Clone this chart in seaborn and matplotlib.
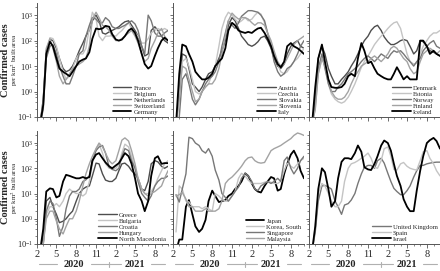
import pandas as pd
import matplotlib
matplotlib.use('Agg')
import matplotlib.pyplot as plt
import matplotlib.dates as mdates
import matplotlib.ticker as mticker
import seaborn as sns

# half-monthly samples, 15 Feb 2020 .. 1 Oct 2021
dates = pd.date_range('2020-02-15', '2021-10-01', freq='SMS')

# confirmed cases per km2 built area (log scale)
france = [0.05, 0.5, 40, 110, 100, 50, 20, 8, 6, 7, 10, 20, 40, 80, 150, 250, 600, 1000, 600, 200,
          180, 220, 250, 300, 350, 450, 550, 600, 400, 250, 150, 60, 25, 30, 250, 350, 250, 150, 100, 80]
belgium = [0.05, 0.3, 30, 130, 120, 60, 20, 6, 3, 4, 8, 20, 30, 30, 50, 300, 1300, 700, 150, 100,
           150, 150, 160, 150, 200, 250, 350, 500, 300, 200, 150, 80, 80, 120, 200, 250, 300, 250, 300, 250]
netherlands = [0.05, 0.2, 20, 60, 70, 30, 10, 4, 2, 2, 4, 10, 30, 40, 150, 400, 800, 700, 500, 500,
               800, 600, 350, 300, 300, 350, 400, 500, 600, 450, 250, 60, 30, 1000, 600, 200, 150, 150, 200, 250]
switzerland = [0.05, 0.5, 50, 120, 50, 15, 4, 2, 3, 5, 8, 10, 12, 15, 20, 60, 700, 1300, 800, 400,
               350, 250, 150, 100, 100, 120, 150, 200, 250, 150, 80, 30, 15, 20, 50, 100, 200, 300, 150, 100]
germany = [0.05, 0.3, 30, 90, 60, 20, 8, 6, 5, 4, 6, 10, 15, 18, 20, 35, 120, 300, 280, 300,
           380, 350, 180, 110, 100, 110, 150, 250, 300, 200, 100, 30, 12, 8, 10, 25, 50, 100, 130, 100]

austria = [0.05, 1, 30, 25, 8, 2, 1.5, 1, 1.5, 3, 5, 6, 10, 20, 40, 100, 400, 800, 600, 300,
           150, 100, 70, 60, 70, 90, 130, 150, 100, 50, 20, 10, 8, 12, 30, 60, 80, 100, 60, 50]
czechia = [0.05, 0.5, 15, 20, 10, 3, 1, 0.8, 1, 1.5, 2, 5, 10, 60, 300, 800, 1300, 1000, 700, 500,
           600, 800, 600, 700, 1000, 1300, 1100, 500, 200, 80, 30, 12, 6, 5, 6, 10, 15, 20, 30, 50]
slovakia = [0.05, 0.1, 3, 5, 2, 0.5, 0.3, 0.5, 1, 2, 3, 4, 6, 15, 60, 200, 600, 400, 300, 500,
            900, 1200, 1500, 1500, 1400, 1300, 1000, 600, 200, 60, 15, 6, 4, 5, 8, 10, 15, 30, 60, 100]
slovenia = [0.05, 0.5, 10, 8, 3, 1, 0.4, 0.5, 1, 1.5, 2, 2, 3, 8, 30, 150, 600, 1200, 900, 700,
            800, 800, 700, 500, 400, 500, 500, 400, 200, 100, 40, 15, 10, 12, 20, 40, 70, 100, 120, 150]
italy = [0.05, 5, 70, 60, 30, 15, 6, 4, 3, 3, 3.5, 5, 10, 15, 20, 50, 250, 500, 400, 250,
         220, 200, 220, 200, 250, 300, 320, 200, 120, 60, 25, 12, 9, 15, 60, 80, 60, 50, 40, 30]

denmark = [0.05, 0.5, 20, 60, 30, 8, 4, 2, 2, 3, 4, 6, 10, 17, 30, 60, 100, 150, 250, 350,
           400, 250, 140, 90, 70, 70, 80, 100, 110, 100, 60, 30, 40, 100, 90, 60, 40, 35, 30, 25]
estonia = [0.05, 0.2, 5, 20, 10, 2, 0.8, 0.5, 0.4, 0.35, 0.4, 0.6, 1, 2, 4, 9, 15, 25, 40, 70,
           100, 150, 200, 300, 400, 500, 550, 300, 100, 30, 15, 12, 13, 30, 60, 100, 150, 200, 200, 250]
norway = [0.05, 0.3, 8, 30, 8, 2, 1, 1, 1.5, 2, 3, 5, 6, 8, 10, 15, 20, 25, 20, 15,
          20, 30, 25, 20, 30, 40, 35, 40, 30, 20, 15, 10, 15, 20, 40, 60, 80, 100, 60, 50]
finland = [0.05, 0.2, 5, 20, 10, 3, 1, 0.6, 0.5, 0.5, 0.6, 1, 2, 4, 6, 10, 12, 15, 20, 25,
           20, 15, 20, 30, 50, 60, 50, 30, 20, 15, 8, 5, 6, 15, 30, 40, 50, 40, 30, 40]
iceland = [0.05, 1.5, 20, 70, 15, 3, 1.5, 1.4, 1.4, 1.5, 2, 4, 5, 4, 20, 80, 40, 13, 15, 8,
           5, 4, 3.4, 3, 3, 5, 9, 5, 3, 4, 3, 3, 3, 100, 100, 60, 30, 40, 30, 25]

greece = [0.05, 0.2, 5, 7, 3, 1.5, 0.7, 0.8, 1, 1.5, 2, 5, 10, 15, 18, 20, 50, 160, 150, 60,
          34, 30, 30, 40, 80, 150, 160, 120, 80, 60, 40, 15, 13, 30, 150, 200, 180, 120, 100, 120]
bulgaria = [0.05, 0.1, 1.5, 3, 3, 4, 3, 5, 10, 15, 12, 10, 10, 8, 10, 30, 150, 600, 900, 400,
            150, 100, 100, 100, 150, 400, 900, 700, 300, 100, 40, 15, 10, 10, 12, 20, 40, 80, 150, 200]
croatia = [0.05, 0.1, 2, 5, 4, 1, 0.2, 0.5, 2.5, 8, 12, 12, 15, 30, 35, 50, 200, 500, 700, 800,
           400, 110, 90, 80, 100, 300, 600, 500, 200, 100, 30, 10, 7, 5, 8, 20, 30, 40, 40, 50]
hungary = [0.05, 0.1, 1, 2, 2, 0.8, 0.4, 0.25, 0.5, 1, 1, 2, 5, 20, 60, 150, 300, 600, 1000, 700,
           400, 200, 150, 200, 500, 1300, 1600, 1200, 500, 150, 40, 15, 10, 8, 10, 12, 15, 20, 40, 80]
north_macedonia = [0.05, 0.4, 12, 16, 15, 7, 8, 30, 55, 50, 45, 40, 40, 45, 40, 45, 200, 350, 400, 250,
                   170, 120, 100, 130, 160, 250, 400, 300, 150, 40, 10, 5, 2, 5, 50, 250, 300, 150, 160, 160]

japan = [0.05, 0.15, 0.15, 3, 5.5, 1.5, 0.5, 0.3, 0.4, 0.9, 5, 13, 8, 4.6, 5, 5.5, 8, 10, 15, 20,
         30, 63, 50, 25, 15, 12, 11, 20, 30, 45, 40, 13, 15, 60, 150, 350, 500, 250, 80, 40]
korea = [0.3, 20, 15, 5, 4.6, 3, 3, 3, 2.5, 3, 2.5, 2, 10, 8, 6, 5, 5, 8, 12, 40,
         63, 50, 34, 25, 25, 25, 25, 28, 30, 28, 25, 25, 30, 80, 160, 120, 100, 150, 200, 250]
singapore = [9, 4.6, 15, 60, 1700, 1500, 1000, 800, 500, 400, 600, 300, 85, 34, 10, 7, 5, 8, 12, 18,
             40, 63, 50, 30, 15, 13, 20, 25, 30, 25, 30, 40, 30, 200, 280, 100, 60, 100, 200, 300]
malaysia = [8, 9, 11, 6, 3, 3, 2, 2, 2, 2.5, 2, 2, 2, 2.5, 5, 25, 35, 45, 60, 85,
            120, 200, 260, 280, 200, 170, 160, 170, 280, 500, 600, 700, 800, 1000, 1200, 1500, 2000, 2500, 2300, 2000]

united_kingdom = [0.05, 0.3, 5, 20, 21, 18, 15, 5, 3, 1.5, 3.5, 4, 5.5, 10, 25, 60, 110, 130, 130, 100,
                  200, 250, 160, 63, 30, 16, 12, 9, 9, 13, 20, 45, 80, 130, 130, 150, 160, 170, 175, 175]
spain = [0.05, 0.5, 10, 25, 20, 10, 5, 3, 3, 5, 30, 100, 150, 170, 200, 250, 300, 400, 250, 110,
         100, 200, 600, 700, 300, 90, 85, 150, 170, 120, 100, 90, 85, 200, 450, 500, 250, 150, 80, 50]
israel = [0.05, 0.5, 15, 100, 70, 15, 3, 5, 40, 180, 250, 250, 230, 400, 800, 450, 110, 90, 85, 150,
          300, 800, 1260, 1000, 500, 150, 50, 20, 6, 3, 2, 2, 13, 80, 300, 1000, 1300, 1600, 1200, 600]

DARK, LIGHT, MID, MIDLIGHT, BLACK = '#4d4d4d', '#c4c4c4', '#777777', '#a3a3a3', '#000000'

panels = [
    [('France', france, DARK), ('Belgium', belgium, LIGHT), ('Netherlands', netherlands, MID),
     ('Switzerland', switzerland, MIDLIGHT), ('Germany', germany, BLACK)],
    [('Austria', austria, DARK), ('Czechia', czechia, LIGHT), ('Slovakia', slovakia, MID),
     ('Slovenia', slovenia, MIDLIGHT), ('Italy', italy, BLACK)],
    [('Denmark', denmark, DARK), ('Estonia', estonia, LIGHT), ('Norway', norway, MID),
     ('Finland', finland, MIDLIGHT), ('Iceland', iceland, BLACK)],
    [('Greece', greece, DARK), ('Bulgaria', bulgaria, LIGHT), ('Croatia', croatia, MID),
     ('Hungary', hungary, MIDLIGHT), ('North Macedonia', north_macedonia, BLACK)],
    [('Japan', japan, BLACK), ('Korea, South', korea, LIGHT), ('Singapore', singapore, MID),
     ('Malaysia', malaysia, MIDLIGHT)],
    [('United Kingdom', united_kingdom, MID), ('Spain', spain, LIGHT), ('Israel', israel, BLACK)],
]

sns.set_theme(style='ticks')
plt.rcParams['font.family'] = ['Liberation Serif', 'DejaVu Serif']
plt.rcParams['mathtext.fontset'] = 'stix'

W, H = 440, 271
col_left = [37, 173, 309]
col_w = 131
row_top = [3, 131]
row_bottom = [117, 244]


def year_bar(ax):
    # "—— 2020 ——+—— 2021 ——" under the month labels
    tr = ax.get_xaxis_transform()
    y = -0.18
    segs = [('2020-02-10', '2020-05-05'), ('2020-10-07', '2021-02-27'), ('2021-07-12', '2021-09-18')]
    for a, b in segs:
        ax.plot([pd.Timestamp(a), pd.Timestamp(b)], [y, y], transform=tr, color='#b0b0b0',
                lw=0.8, clip_on=False)
    jan = pd.Timestamp('2021-01-01')
    ax.plot([jan, jan], [y - 0.025, y + 0.025], transform=tr, color='#b0b0b0', lw=0.8, clip_on=False)
    ax.text(pd.Timestamp('2020-07-22'), y, '2020', transform=tr, ha='center', va='center',
            fontsize=7.5, fontweight='bold')
    ax.text(pd.Timestamp('2021-05-01'), y, '2021', transform=tr, ha='center', va='center',
            fontsize=7.5, fontweight='bold')


fig = plt.figure(figsize=(W / 100, H / 100), dpi=100)

for k, series in enumerate(panels):
    r, c = divmod(k, 3)
    rect = [col_left[c] / W, 1 - row_bottom[r] / H, col_w / W, (row_bottom[r] - row_top[r]) / H]
    ax = fig.add_axes(rect)
    for name, vals, color in series:
        lw = 1.3 if color == BLACK else 1.0
        sns.lineplot(x=dates, y=vals, ax=ax, color=color, lw=lw, label=name)

    ax.set_yscale('log')
    ax.set_ylim(0.1, 3000)
    ax.set_xlim(pd.Timestamp('2020-02-01'), pd.Timestamp('2021-10-01'))
    ax.xaxis.set_major_locator(mdates.MonthLocator(bymonth=[2, 5, 8, 11]))
    ax.xaxis.set_minor_locator(mdates.MonthLocator())
    ax.xaxis.set_major_formatter(mticker.FuncFormatter(lambda v, p: str(mdates.num2date(v).month)))
    ax.yaxis.set_major_locator(mticker.LogLocator(base=10, numticks=10))
    ax.yaxis.set_minor_locator(mticker.LogLocator(base=10, subs=[2, 4, 6, 8], numticks=10))
    ax.yaxis.set_minor_formatter(mticker.NullFormatter())

    for s in ['top', 'right']:
        ax.spines[s].set_visible(False)
    for s in ['left', 'bottom']:
        ax.spines[s].set_color('#555555')
        ax.spines[s].set_linewidth(0.7)
    ax.tick_params(which='major', length=3, width=0.6, color='#555555', pad=1.5)
    ax.tick_params(axis='x', labelsize=7.5)
    ax.tick_params(axis='y', labelsize=6, pad=0.5, length=2.5)
    ax.tick_params(which='minor', length=1.5, width=0.5, color='#555555')
    ax.set_xlabel('')
    ax.set_ylabel('')

    if c != 0:
        ax.tick_params(axis='y', labelleft=False)
    if r == 0:
        ax.tick_params(axis='x', labelbottom=False)
    else:
        year_bar(ax)

    ax.legend(loc='lower right', frameon=False, fontsize=4.8, handlelength=2.8,
              handletextpad=0.3, labelspacing=0.05, borderaxespad=0.15, borderpad=0.2)

for r in range(2):
    yc = 1 - (row_top[r] + row_bottom[r]) / 2 / H
    fig.text(5.2 / W, yc, 'Confirmed cases', rotation=90, ha='center', va='center',
             fontsize=7.5, fontweight='bold')
    fig.text(15 / W, yc, 'per km$^2$ built area', rotation=90, ha='center', va='center',
             fontsize=5)

fig.savefig('out.png', dpi=100)
